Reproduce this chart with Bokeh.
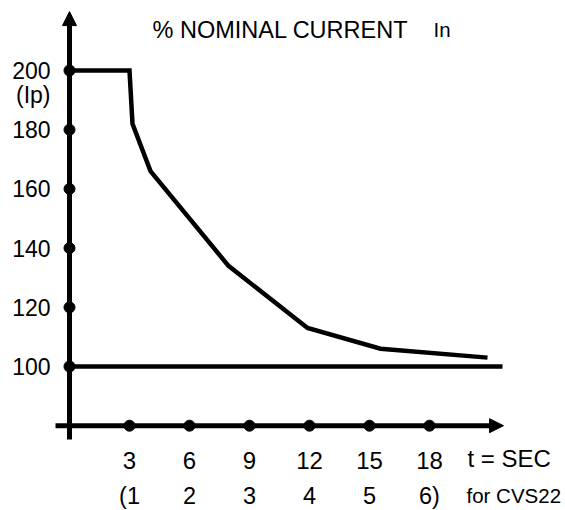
from bokeh.plotting import figure
from bokeh.models import Range1d, Arrow, NormalHead
from bokeh.core.properties import value
from bokeh.embed import file_html
from bokeh.resources import INLINE

# ---- data ----
t_sec = [0, 3, 3.15, 4.05, 7.95, 11.9, 15.55, 20.9]
pct_current = [200, 200, 182, 166, 134, 113, 106, 103]

y_ticks = [100, 120, 140, 160, 180, 200]
y_tick_labels = ["100", "120", "140", "160", "180", "200"]
x_ticks = [3, 6, 9, 12, 15, 18]
x_tick_labels = ["3", "6", "9", "12", "15", "18"]
x_tick_labels_cvs = ["(1", "2", "3", "4", "5", "6)"]

nominal_pct = 100
nominal_end_t = 21.65
axis_cross_pct = 80
title_text = "% NOMINAL CURRENT"
unit_text = "In"
ip_text = "(Ip)"
x_name_text = "t = SEC"
cvs_text = "for CVS22"

FONT = value("Liberation Sans")

p = figure(width=565, height=510,
           x_range=Range1d(-3.45, 24.8), y_range=Range1d(51.35, 223.65),
           output_backend="svg", toolbar_location=None,
           x_axis_type=None, y_axis_type=None, min_border=0)
p.grid.visible = False
p.outline_line_color = None
p.background_fill_color = "white"
p.border_fill_color = "white"

# axes with arrow heads
p.add_layout(Arrow(end=NormalHead(size=14, fill_color="black", line_color="black"),
                   x_start=0, y_start=75.3, x_end=0, y_end=219.9,
                   line_width=5, line_color="black"))
p.add_layout(Arrow(end=NormalHead(size=14, fill_color="black", line_color="black"),
                   x_start=-0.7, y_start=axis_cross_pct, x_end=21.7, y_end=axis_cross_pct,
                   line_width=5, line_color="black"))

# nominal current line
p.line([0, nominal_end_t], [nominal_pct, nominal_pct], line_width=4.5, line_color="black")

# curve
p.line(t_sec, pct_current, line_width=4.5, line_color="black", line_join="miter")

# tick dots
p.scatter([0] * len(y_ticks), y_ticks, size=11, color="black")
p.scatter(x_ticks, [axis_cross_pct] * len(x_ticks), size=11, color="black")

# y tick labels
p.text(x=[-0.95] * len(y_ticks), y=y_ticks, text=y_tick_labels,
       text_align="right", text_baseline="middle",
       text_font=FONT, text_font_size="23px", text_color="black")
p.text(x=[-0.95], y=[191.6], text=[ip_text],
       text_align="right", text_baseline="middle",
       text_font=FONT, text_font_size="23px", text_color="black")

# x tick labels
p.text(x=x_ticks, y=[68.2] * len(x_ticks), text=x_tick_labels,
       text_align="center", text_baseline="middle",
       text_font=FONT, text_font_size="24px", text_color="black")
p.text(x=x_ticks, y=[56.3] * len(x_ticks), text=x_tick_labels_cvs,
       text_align="center", text_baseline="middle",
       text_font=FONT, text_font_size="23.5px", text_color="black")
p.text(x=[19.9], y=[68.8], text=[x_name_text],
       text_align="left", text_baseline="middle",
       text_font=FONT, text_font_size="24px", text_color="black")
p.text(x=[19.85], y=[56.3], text=[cvs_text],
       text_align="left", text_baseline="middle",
       text_font=FONT, text_font_size="20.5px", text_color="black")

# title texts
p.text(x=[4.15], y=[213.7], text=[title_text],
       text_align="left", text_baseline="middle",
       text_font=FONT, text_font_size="23.5px", text_color="black")
p.text(x=[18.2], y=[213.9], text=[unit_text],
       text_align="left", text_baseline="middle",
       text_font=FONT, text_font_size="20.5px", text_color="black")

open("out.html", "w").write(file_html(p, INLINE))
